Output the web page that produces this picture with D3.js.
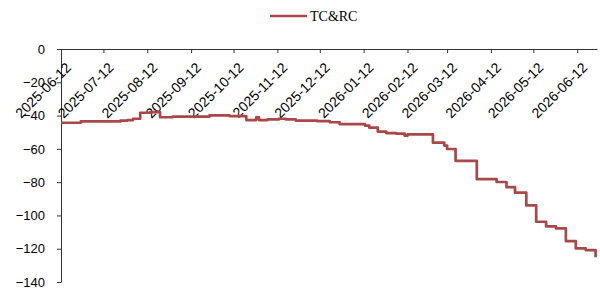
<!DOCTYPE html>
<html>
<head>
<meta charset="utf-8">
<script src="https://cdn.jsdelivr.net/npm/d3@7"></script>
<style>
body { margin: 0; background: #fff; }
</style>
</head>
<body>
<script>
// TC&RC series, step changes
var dates = ['2025-06-12','2025-06-26','2025-07-24','2025-07-29','2025-08-02','2025-08-07','2025-08-14',
  '2025-08-21','2025-08-30','2025-09-25','2025-10-09','2025-10-21','2025-10-28','2025-10-30','2025-11-05',
  '2025-11-13','2025-11-18','2025-11-25','2025-12-10','2025-12-19','2025-12-26','2026-01-13','2026-01-16',
  '2026-01-22','2026-01-28','2026-02-04','2026-02-10','2026-02-12','2026-03-02','2026-03-10','2026-03-12',
  '2026-03-18','2026-04-02','2026-04-16','2026-04-23','2026-04-29','2026-05-07','2026-05-14','2026-05-21',
  '2026-05-28','2026-06-04','2026-06-11','2026-06-18','2026-06-25'];
var values = [-44.3,-43.5,-43,-42.7,-41.9,-38.3,-37.9,
  -41,-40.6,-39.9,-40.3,-42.7,-41,-42.7,-42.3,
  -41.9,-42.3,-43,-43.3,-44,-45.1,-46.1,-47.3,
  -49.7,-50.5,-50.9,-52.1,-51.3,-56.3,-58,-60.1,
  -67.2,-78.2,-79.9,-83,-86.3,-94,-103.8,-106.6,
  -107.8,-115.4,-119.8,-120.8,-125.2];
var tickDates = ['2025-06-12','2025-07-12','2025-08-12','2025-09-12','2025-10-12','2025-11-12','2025-12-12',
  '2026-01-12','2026-02-12','2026-03-12','2026-04-12','2026-05-12','2026-06-12'];
var yTicks = [0,-20,-40,-60,-80,-100,-120,-140];
var seriesName = 'TC&RC';

var parse = d3.timeParse('%Y-%m-%d');
var fmt = d3.timeFormat('%Y-%m-%d');
var data = dates.map(function(d, i){ return {date: parse(d), value: values[i]}; });

var svg = d3.select('body').append('svg').attr('width', 600).attr('height', 289);
var lineColor = '#a84848';

var x = d3.scaleTime().domain([parse('2025-06-12'), parse('2026-06-26')]).range([61, 597]);
var y = d3.scaleLinear().domain([-140, 0]).range([282, 49]);

// y axis
var yAxis = svg.append('g').attr('transform', 'translate(61,0)')
  .call(d3.axisLeft(y).tickValues(yTicks).tickSize(4).tickPadding(12).tickSizeOuter(0));
yAxis.selectAll('text').style('font-family', 'Liberation Sans, Arial, sans-serif').style('font-size', '13px').attr('fill', '#000');
yAxis.selectAll('line,path').attr('stroke', '#333');

// x axis sits on the zero line, labels slanted below it
var xAxis = svg.append('g').attr('transform', 'translate(0,' + y(0) + ')')
  .call(d3.axisBottom(x).tickValues(tickDates.map(parse)).tickFormat(fmt).tickSize(4).tickSizeOuter(0));
xAxis.selectAll('line,path').attr('stroke', '#333');
xAxis.selectAll('text')
  .attr('x', 0).attr('y', 0).attr('dy', '0.35em')
  .attr('transform', 'translate(7,16) rotate(-45)')
  .style('text-anchor', 'end')
  .style('font-family', 'Liberation Sans, Arial, sans-serif').style('font-size', '14px').attr('fill', '#000');

var line = d3.line().x(function(d){ return x(d.date); }).y(function(d){ return y(d.value); }).curve(d3.curveStepAfter);
svg.append('path').datum(data).attr('d', line)
  .attr('fill', 'none').attr('stroke', lineColor).attr('stroke-width', 2.7).attr('stroke-linejoin', 'round');

// legend
svg.append('line').attr('x1', 270).attr('x2', 307).attr('y1', 16).attr('y2', 16)
  .attr('stroke', lineColor).attr('stroke-width', 2.7);
svg.append('text').attr('x', 310).attr('y', 21).text(seriesName)
  .style('font-family', 'Liberation Serif, Times New Roman, serif').style('font-size', '14px').attr('fill', '#000');
</script>
</body>
</html>
